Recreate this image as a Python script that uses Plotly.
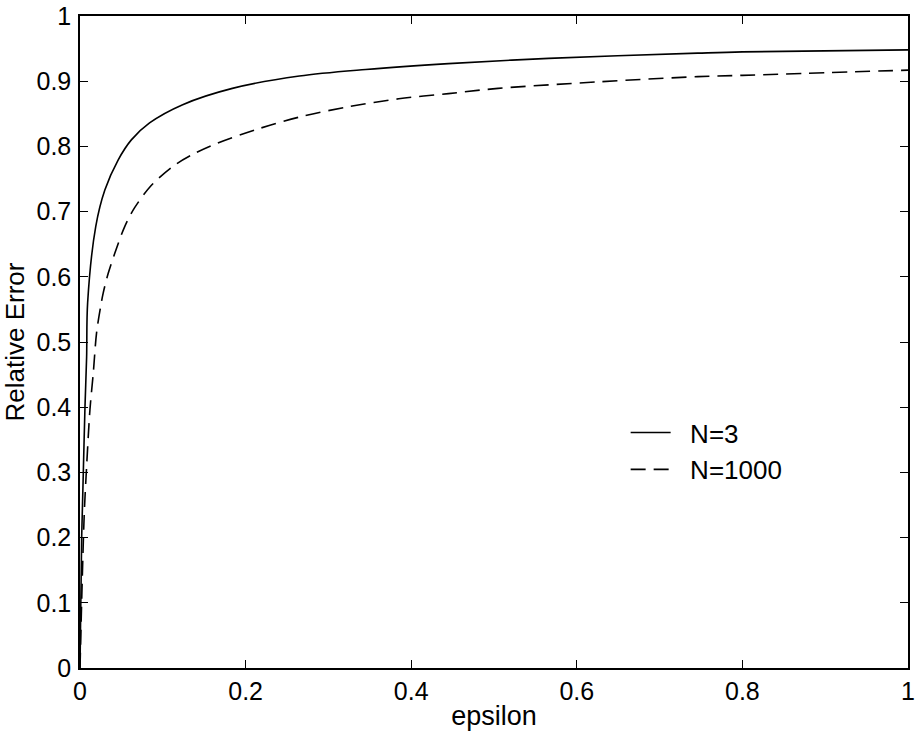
import plotly.graph_objects as go

eps_n3 = [0, 0.002, 0.004, 0.006, 0.008, 0.0092, 0.019, 0.030, 0.046, 0.062, 0.084,
          0.124, 0.184, 0.265, 0.345, 0.445, 0.566, 0.746, 0.8, 1.0]
err_n3 = [0, 0.2, 0.3, 0.4, 0.477, 0.56, 0.677, 0.733, 0.779, 0.810, 0.836,
          0.864, 0.889, 0.908, 0.918, 0.927, 0.935, 0.943, 0.945, 0.948]

eps_n1000 = [0, 0.005, 0.008, 0.012, 0.016, 0.020, 0.025, 0.028, 0.034, 0.042, 0.054,
             0.066, 0.086, 0.114, 0.138, 0.164, 0.213, 0.265, 0.325, 0.385, 0.445,
             0.505, 0.626, 0.746, 0.8, 1.0]
err_n1000 = [0, 0.232, 0.309, 0.396, 0.452, 0.514, 0.555, 0.575, 0.605, 0.636, 0.677,
             0.706, 0.740, 0.771, 0.789, 0.804, 0.826, 0.845, 0.861, 0.873, 0.881,
             0.889, 0.899, 0.907, 0.909, 0.917]

x_ticks = [0, 0.2, 0.4, 0.6, 0.8, 1]
x_ticktext = ["0", "0.2", "0.4", "0.6", "0.8", "1"]
y_ticks = [0, 0.1, 0.2, 0.3, 0.4, 0.5, 0.6, 0.7, 0.8, 0.9, 1]
y_ticktext = ["0", "0.1", "0.2", "0.3", "0.4", "0.5", "0.6", "0.7", "0.8", "0.9", "1"]
series_names = ["N=3", "N=1000"]

font = "Liberation Sans, Arial, Helvetica, sans-serif"
FS = 25
PAD = "\u00a0\u00a0"

fig = go.Figure()
fig.add_trace(go.Scatter(x=eps_n3, y=err_n3, mode="lines", name=PAD + series_names[0],
                         line=dict(color="black", width=1.6, shape="spline", smoothing=0.9)))
fig.add_trace(go.Scatter(x=eps_n1000, y=err_n1000, mode="lines", name=PAD + series_names[1],
                         line=dict(color="black", width=1.6, dash="15px,8px",
                                   shape="spline", smoothing=0.9)))

axis_common = dict(showline=True, mirror="ticks", linecolor="black", linewidth=1.5,
                   ticks="inside", ticklen=8, tickwidth=1.3, tickcolor="black",
                   showgrid=False, zeroline=False, range=[0, 1], automargin=False,
                   ticklabeloverflow="allow",
                   tickfont=dict(size=FS, color="black", family=font))

fig.update_xaxes(tickvals=x_ticks, ticktext=x_ticktext,
                 title=dict(text="epsilon", font=dict(size=27, color="black", family=font), standoff=2),
                 **axis_common)
fig.update_yaxes(tickvals=y_ticks, ticktext=y_ticktext, ticklabelstandoff=2,
                 title=dict(text="Relative Error", font=dict(size=26, color="black", family=font), standoff=12),
                 **axis_common)

fig.update_layout(
    width=917, height=733,
    margin=dict(l=80, r=9, t=16, b=65),
    plot_bgcolor="white", paper_bgcolor="white",
    font=dict(family=font, color="black", size=FS),
    legend=dict(x=0.659, y=0.397, xanchor="left", yanchor="top",
                bgcolor="rgba(0,0,0,0)", borderwidth=0,
                font=dict(size=26, color="black", family=font),
                itemwidth=40, tracegroupgap=0),
)

fig.write_html("out.html")
